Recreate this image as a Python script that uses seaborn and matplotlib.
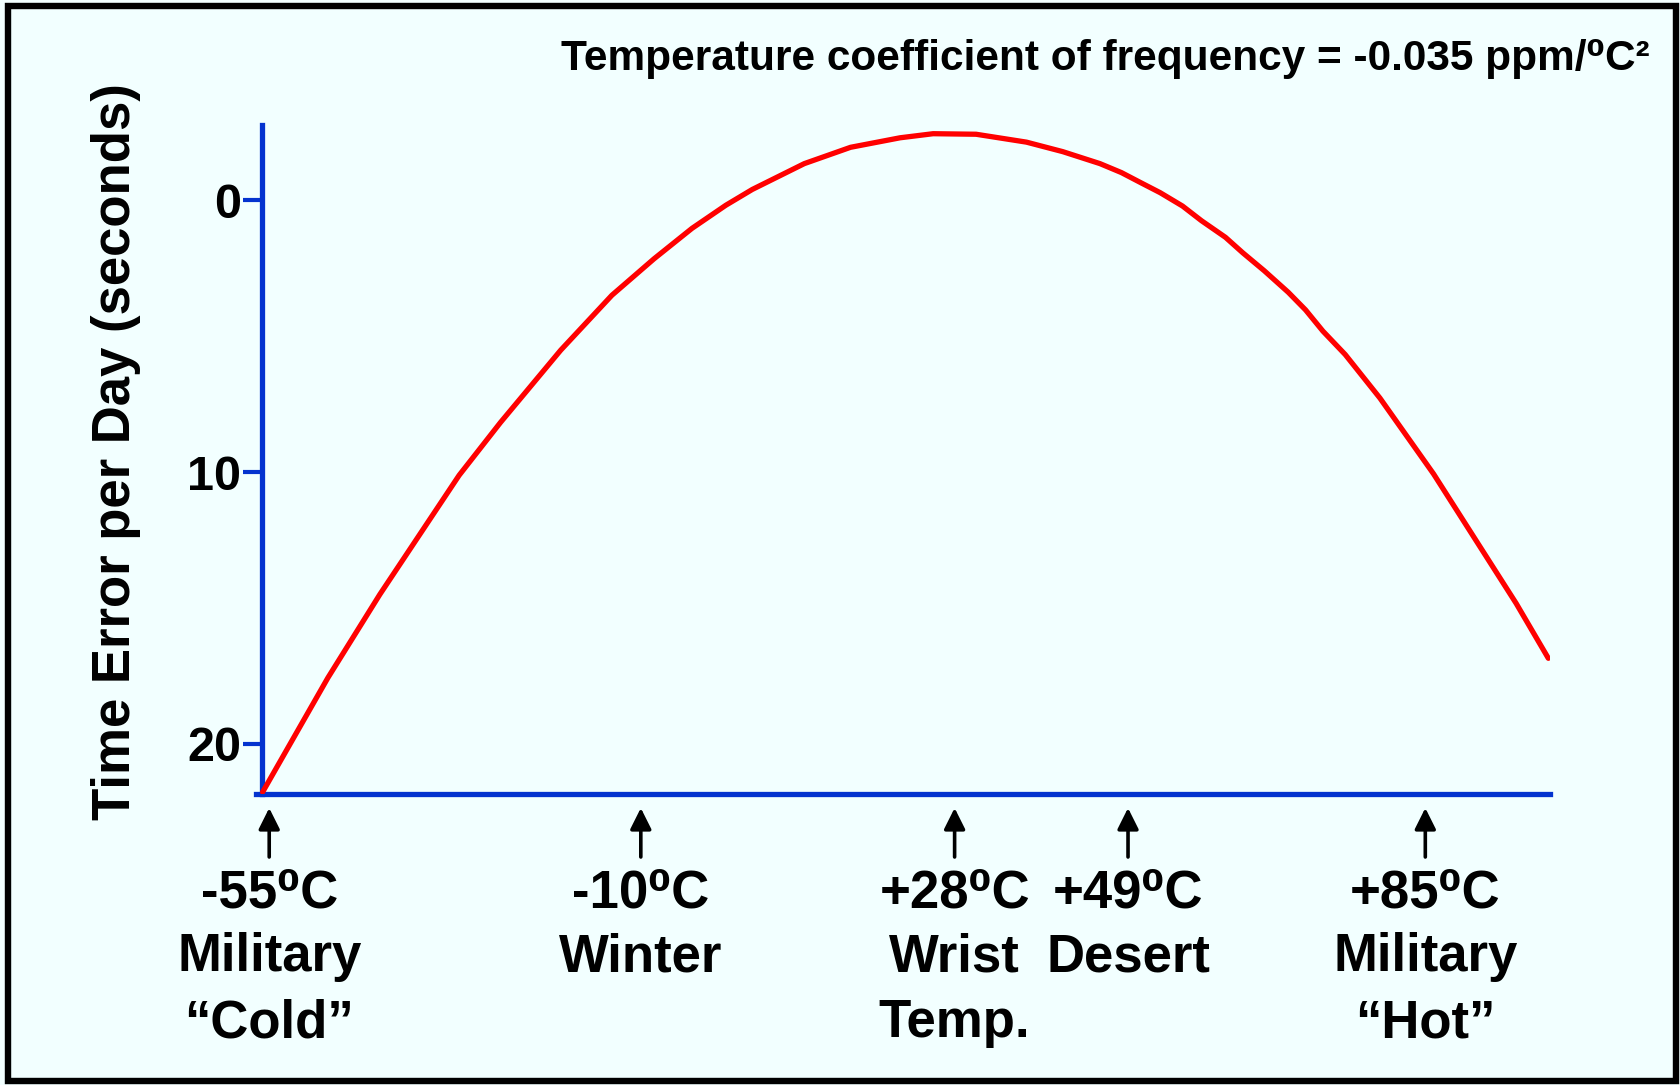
import matplotlib
matplotlib.use("Agg")
import matplotlib.pyplot as plt
import seaborn as sns
import pandas as pd
from matplotlib.patches import Rectangle

# Time error of a quartz tuning-fork watch crystal vs. temperature
temperature_c = [-55.8, -47.9, -41.6, -32.0, -27.0, -19.7, -13.5, -8.4, -3.8, 0.3,
                 3.5, 9.8, 15.4, 21.4, 25.4, 30.6, 36.7, 41.1, 45.6, 48.2,
                 50.6, 52.9, 55.6, 57.9, 60.8, 62.9, 65.5, 68.4, 70.5, 72.6,
                 75.3, 79.5, 86.0, 96.0, 99.9]
error_s = [21.77, 17.57, 14.50, 10.12, 8.18, 5.52, 3.50, 2.16, 1.04, 0.19,
           -0.39, -1.34, -1.94, -2.29, -2.44, -2.42, -2.13, -1.78, -1.34, -1.01,
           -0.63, -0.27, 0.22, 0.76, 1.37, 1.94, 2.60, 3.39, 4.04, 4.82,
           5.68, 7.28, 10.07, 14.83, 16.85]

marker_temps = [-55, -10, 28, 49, 85]
marker_notes = [["Military", "\u201cCold\u201d"],
                ["Winter"],
                ["Wrist", "Temp."],
                ["Desert"],
                ["Military", "\u201cHot\u201d"]]

y_ticks = [0, 10, 20]
title_text = "Temperature coefficient of frequency = -0.035 ppm/\u2070C\u00b2"
y_label = "Time Error per Day (seconds)"

BG = "#F2FFFF"
BLUE = "#0433CF"
RED = "#FF0000"

sns.set_theme(style="white")
plt.rcParams["font.family"] = ["Liberation Sans", "DejaVu Sans"]
plt.rcParams["font.weight"] = "bold"

W, H = 1680, 1085
fig = plt.figure(figsize=(W / 100, H / 100), dpi=100, facecolor=BG)
ax_left, ax_right, ax_top, ax_bot = 256, 1550, 125, 794
ax = fig.add_axes([ax_left / W, 1 - ax_bot / H, (ax_right - ax_left) / W, (ax_bot - ax_top) / H])
ax.set_facecolor(BG)

df = pd.DataFrame({"Temperature": temperature_c, "Error": error_s})
sns.lineplot(data=df, x="Temperature", y="Error", ax=ax, color=RED, linewidth=3.8,
             errorbar=None, sort=True)

ax.set_xlim(-56.6, 100.1)
ax.set_ylim(21.84, -2.76)
ax.set_xticks([])
ax.set_yticks(y_ticks)
ax.set_yticklabels([str(t) for t in y_ticks])
ax.tick_params(axis="y", direction="out", length=14, width=3, color=BLUE, pad=1,
               left=True, labelsize=35, labelcolor="black")
for lbl in ax.get_yticklabels():
    lbl.set_fontweight("bold")
ax.set_xlabel("")
ax.set_ylabel("")

for side in ["top", "right"]:
    ax.spines[side].set_visible(False)
for side in ["left", "bottom"]:
    ax.spines[side].set_color(BLUE)
    ax.spines[side].set_linewidth(3.8)
    ax.spines[side].set_zorder(1)
ax.spines["left"].set_position(("data", -55.85))

# Reference temperatures with arrows and captions under the axis
axh = ax_bot - ax_top
tip = -(808 - ax_bot) / axh
tail = -(857 - ax_bot) / axh
baselines = [-(907 - ax_bot) / axh, -(971 - ax_bot) / axh, -(1037 - ax_bot) / axh]
trans = ax.get_xaxis_transform()
for t, notes in zip(marker_temps, marker_notes):
    ax.annotate("", xy=(t, tip), xytext=(t, tail), xycoords=trans, textcoords=trans,
                annotation_clip=False,
                arrowprops=dict(arrowstyle="-|>,head_length=0.4,head_width=0.2",
                                color="black", lw=2.6, mutation_scale=32,
                                shrinkA=0, shrinkB=0))
    lines = [f"{t:+d}\u2070C"] + notes
    for line, yb in zip(lines, baselines):
        ax.text(t, yb, line, transform=trans, ha="center", va="baseline",
                fontsize=38, fontweight="bold", color="black", clip_on=False)

fig.text(1650 / W, 1 - 70 / H, title_text, ha="right", va="baseline",
         fontsize=30.5, fontweight="bold", color="black")
fig.text(116 / W, 1 - 452 / H, y_label, rotation=90, ha="center", va="center",
         fontsize=38, fontweight="bold", color="black")

# Black frame around the slide
fig.patches.append(Rectangle((8 / W, 1 - 1081 / H), (1676 - 8) / W, (1081 - 6) / H,
                             transform=fig.transFigure, fill=False,
                             edgecolor="black", linewidth=4.6, zorder=10))

fig.savefig("out.png", dpi=100, facecolor=BG)
